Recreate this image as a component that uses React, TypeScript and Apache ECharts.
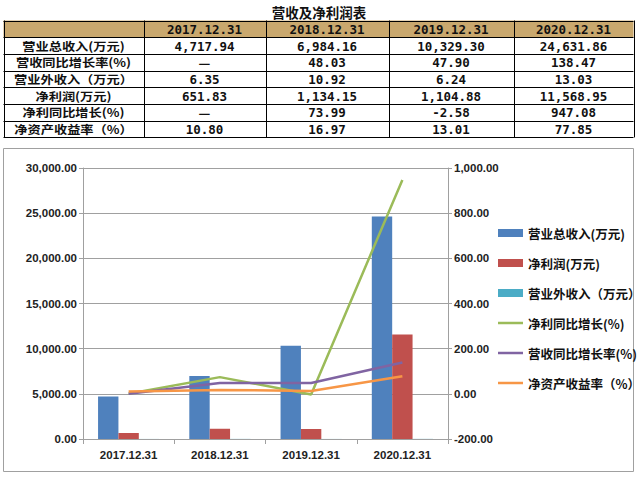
import React, { useEffect, useRef } from "react";
import * as echarts from "echarts";

const title = "营收及净利润表";
const years = ["2017.12.31", "2018.12.31", "2019.12.31", "2020.12.31"];
const rowLabels = ["营业总收入(万元)", "营收同比增长率(%)", "营业外收入（万元）", "净利润(万元)", "净利同比增长(%)", "净资产收益率（%）"];
const tableRows = [
  ["4,717.94", "6,984.16", "10,329.30", "24,631.86"],
  ["—", "48.03", "47.90", "138.47"],
  ["6.35", "10.92", "6.24", "13.03"],
  ["651.83", "1,134.15", "1,104.88", "11,568.95"],
  ["—", "73.99", "-2.58", "947.08"],
  ["10.80", "16.97", "13.01", "77.85"],
];

const revenue = [4717.94, 6984.16, 10329.3, 24631.86];
const netProfit = [651.83, 1134.15, 1104.88, 11568.95];
const otherIncome = [6.35, 10.92, 6.24, 13.03];
const profitGrowth = [0, 73.99, -2.58, 947.08];
const revenueGrowth = [0, 48.03, 47.9, 138.47];
const roe = [10.8, 16.97, 13.01, 77.85];

const seriesNames = ["营业总收入(万元)", "净利润(万元)", "营业外收入（万元）", "净利同比增长(%)", "营收同比增长率(%)", "净资产收益率（%）"];
const colors = ["#4f81bd", "#c0504d", "#4bacc6", "#9bbb59", "#8064a2", "#f79646"];

const fmt = (v: number) =>
  v.toLocaleString("en-US", { minimumFractionDigits: 2, maximumFractionDigits: 2 });

const colWidths = [140, 122, 123, 125, 120];
const rowH = 16.7;
const tableX = 3.5;
const tableY = 20.5;

function buildTable(): any[] {
  const els: any[] = [];
  const numFont = '"DejaVu Sans Mono", "Noto Sans CJK SC", monospace';
  const cjkFont = '"Noto Sans CJK SC", sans-serif';
  const xs: number[] = [tableX];
  colWidths.forEach((w) => xs.push(xs[xs.length - 1] + w));
  const nRows = rowLabels.length + 1;
  const ys: number[] = [];
  for (let i = 0; i <= nRows; i++) ys.push(tableY + i * rowH);
  const totalW = xs[xs.length - 1] - tableX;
  els.push({
    type: "rect",
    shape: { x: tableX, y: tableY, width: totalW, height: rowH },
    style: { fill: "#c9a86e" },
  });
  xs.forEach((x) =>
    els.push({
      type: "line",
      shape: { x1: Math.round(x) + 0.5, y1: tableY, x2: Math.round(x) + 0.5, y2: ys[nRows] },
      style: { stroke: "#000", lineWidth: 1 },
    })
  );
  ys.forEach((y) =>
    els.push({
      type: "line",
      shape: { x1: tableX, y1: Math.round(y) + 0.5, x2: xs[xs.length - 1], y2: Math.round(y) + 0.5 },
      style: { stroke: "#000", lineWidth: 1 },
    })
  );
  const cell = (text: string, c: number, r: number, font: string, size: number, sx = 1) => ({
    type: "text",
    x: (xs[c] + xs[c + 1]) / 2,
    y: (ys[r] + ys[r + 1]) / 2 + 0.5,
    scaleX: sx,
    style: {
      text,
      fontFamily: font,
      fontWeight: "bold",
      fontSize: size,
      fill: "#111",
      align: "center",
      verticalAlign: "middle",
    },
  });
  years.forEach((y, i) => els.push(cell(y, i + 1, 0, numFont, 12.5)));
  rowLabels.forEach((lab, r) => {
    els.push(cell(lab, 0, r + 1, cjkFont, 11.5, 1.15));
    tableRows[r].forEach((v, c) => {
      els.push(cell(v, c + 1, r + 1, v === "—" ? cjkFont : numFont, v === "—" ? 13 : 12.5));
    });
  });
  els.push({
    type: "text",
    x: 319,
    y: 12,
    style: {
      text: title,
      fontFamily: cjkFont,
      fontWeight: "bold",
      fontSize: 13.5,
      fill: "#111",
      align: "center",
      verticalAlign: "middle",
    },
  });
  return els;
}

export default function App() {
  const ref = useRef<HTMLDivElement>(null);
  useEffect(() => {
    if (!ref.current) return;
    const chart = echarts.init(ref.current, undefined, { renderer: "svg" });
    const axisLabelStyle = {
      fontFamily: "Liberation Sans, Arial, sans-serif",
      fontWeight: "bold" as const,
      fontSize: 11.5,
      color: "#222",
    };
    const barNames = seriesNames.slice(0, 3);
    const lineNames = seriesNames.slice(3);
    chart.setOption({
      animation: false,
      color: colors,
      graphic: [
        {
          type: "rect",
          shape: { x: 3.5, y: 148.5, width: 630, height: 323 },
          style: { fill: "none", stroke: "#a0a0a0", lineWidth: 1 },
        },
        ...buildTable(),
      ],
      grid: { left: 83, right: 640 - 448, top: 168, bottom: 478 - 439 },
      legend: {
        orient: "vertical",
        left: 498,
        top: 226,
        padding: 0,
        itemWidth: 25,
        itemHeight: 8,
        itemGap: 16,
        textStyle: {
          fontFamily: '"Noto Sans CJK SC", sans-serif',
          fontWeight: "bold",
          fontSize: 12.5,
          lineHeight: 14,
          color: "#111",
        },
        data: [
          ...barNames.map((n) => ({ name: n, icon: "rect" })),
          ...lineNames.map((n) => ({ name: n, icon: "path://M0,0h25v2.5h-25z" })),
        ],
      },
      xAxis: {
        type: "category",
        data: years,
        boundaryGap: true,
        axisLine: { show: true, lineStyle: { color: "#a0a0a0", width: 1 } },
        axisTick: { show: true, length: 5, lineStyle: { color: "#a0a0a0" } },
        axisLabel: { ...axisLabelStyle, margin: 10 },
      },
      yAxis: [
        {
          type: "value",
          min: 0,
          max: 30000,
          interval: 5000,
          axisLine: { show: true, lineStyle: { color: "#a0a0a0", width: 1 } },
          axisTick: { show: true, length: 4, lineStyle: { color: "#a0a0a0" } },
          splitLine: { show: true, lineStyle: { color: "#a0a0a0", width: 1 } },
          axisLabel: { ...axisLabelStyle, margin: 6, formatter: (v: number) => fmt(v) },
        },
        {
          type: "value",
          min: -200,
          max: 1000,
          interval: 200,
          position: "right",
          axisLine: { show: true, lineStyle: { color: "#a0a0a0", width: 1 } },
          axisTick: { show: true, length: 4, lineStyle: { color: "#a0a0a0" } },
          splitLine: { show: false },
          axisLabel: { ...axisLabelStyle, margin: 6, formatter: (v: number) => fmt(v) },
        },
      ],
      series: [
        { name: seriesNames[0], type: "bar", data: revenue, barGap: "0%", barCategoryGap: "33%", yAxisIndex: 0 },
        { name: seriesNames[1], type: "bar", data: netProfit, barGap: "0%", barCategoryGap: "33%", yAxisIndex: 0 },
        { name: seriesNames[2], type: "bar", data: otherIncome, barGap: "0%", barCategoryGap: "33%", yAxisIndex: 0 },
        { name: seriesNames[3], type: "line", data: profitGrowth, yAxisIndex: 1, symbol: "none", lineStyle: { width: 2.5 } },
        { name: seriesNames[4], type: "line", data: revenueGrowth, yAxisIndex: 1, symbol: "none", lineStyle: { width: 2.5 } },
        { name: seriesNames[5], type: "line", data: roe, yAxisIndex: 1, symbol: "none", lineStyle: { width: 2.5 } },
      ],
    });
    return () => chart.dispose();
  }, []);
  return (
    <div style={{ position: "absolute", left: 0, top: 0, width: 640, height: 478, background: "#fff" }}>
      <div ref={ref} style={{ position: "absolute", left: 0, top: 0, width: 640, height: 478 }} />
    </div>
  );
}
